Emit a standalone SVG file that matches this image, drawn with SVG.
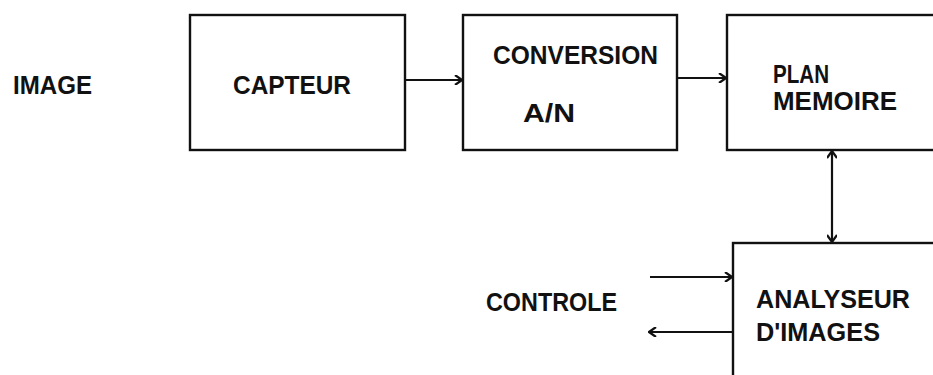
<svg xmlns="http://www.w3.org/2000/svg" width="933" height="375" viewBox="0 0 933 375">
<style>
.b{fill:none;stroke:#111;stroke-width:2.4}
.c{fill:none;stroke:#111;stroke-width:2.2}
.t{font-family:"Liberation Sans",Arial,sans-serif;font-weight:bold;font-size:25px;fill:#111}
</style>
<defs>
<marker id="ah" viewBox="0 0 10 10" refX="9" refY="5" markerWidth="10" markerHeight="10" markerUnits="userSpaceOnUse" orient="auto-start-reverse">
<path d="M2,0 L9,5 L2,10" fill="none" stroke="#111" stroke-width="2.2"/>
</marker>
</defs>
<rect width="933" height="375" fill="#fff"/>
<text class="t" x="13" y="94" textLength="79" lengthAdjust="spacingAndGlyphs">IMAGE</text>
<text class="t" x="486" y="311" textLength="131" lengthAdjust="spacingAndGlyphs">CONTROLE</text>
<g id="capteur">
<rect class="b" x="190" y="15" width="215" height="135"/>
<text class="t" x="233" y="94" textLength="118" lengthAdjust="spacingAndGlyphs">CAPTEUR</text>
</g>
<g id="conversion">
<rect class="b" x="463" y="15" width="214" height="135"/>
<text class="t" x="493" y="64" textLength="165" lengthAdjust="spacingAndGlyphs">CONVERSION</text>
<text class="t" x="523" y="122" textLength="52" lengthAdjust="spacingAndGlyphs">A/N</text>
</g>
<g id="plan">
<rect class="b" x="727" y="15" width="220" height="135"/>
<text class="t" x="773" y="83" textLength="56" lengthAdjust="spacingAndGlyphs">PLAN</text>
<text class="t" x="773" y="110" textLength="124" lengthAdjust="spacingAndGlyphs">MEMOIRE</text>
</g>
<g id="analyseur">
<rect class="b" x="733" y="243" width="220" height="150"/>
<text class="t" x="756" y="308" textLength="154" lengthAdjust="spacingAndGlyphs">ANALYSEUR</text>
<text class="t" x="756" y="341" textLength="124" lengthAdjust="spacingAndGlyphs">D'IMAGES</text>
</g>
<g id="connectors">
<line class="c" x1="405" y1="80" x2="462" y2="80" marker-end="url(#ah)"/>
<line class="c" x1="677" y1="78" x2="726" y2="78" marker-end="url(#ah)"/>
<line class="c" x1="832" y1="151" x2="832" y2="242" marker-start="url(#ah)" marker-end="url(#ah)" stroke-width="3"/>
<line class="c" x1="650" y1="277" x2="732" y2="277" marker-end="url(#ah)"/>
<line class="c" x1="733" y1="332" x2="649" y2="332" marker-end="url(#ah)"/>
</g>
</svg>
